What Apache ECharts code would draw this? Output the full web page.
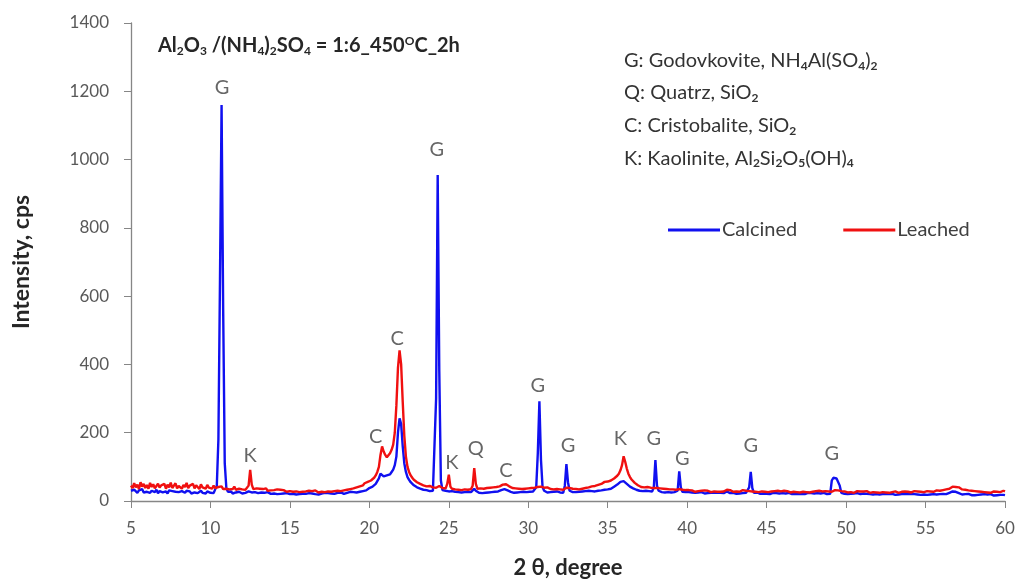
<!DOCTYPE html>
<html>
<head>
<meta charset="utf-8">
<script src="https://cdn.jsdelivr.net/npm/echarts@6/dist/echarts.min.js"></script>
<style>html,body{margin:0;padding:0;background:#fff}#c{width:1020px;height:584px}</style>
</head>
<body>
<div id="c"></div>
<script>
// XRD scan: start angle and step (degrees 2θ); intensities in cps, one row per degree
const scanStart = 5.0;
const scanStep = 0.1;

const calcined = [
/*5*/  30,26,33,28,24,31,27,35,25,29,
/*6*/  27,32,24,30,28,26,33,23,29,27,
/*7*/  25,30,28,22,31,26,29,24,27,30,
/*8*/  26,23,29,27,24,30,25,28,22,27,
/*9*/  25,28,23,27,30,24,26,22,28,25,
/*10*/ 24,27,23,26,45,180,650,1160,560,110,
/*11*/ 38,27,24,28,22,26,25,23,27,24,
/*12*/ 22,26,24,21,28,23,25,22,26,24,
/*13*/ 23,21,25,22,24,20,26,23,21,24,
/*14*/ 22,25,20,23,21,24,22,19,23,21,
/*15*/ 20,23,21,24,19,22,20,23,21,22,
/*16*/ 21,19,23,20,22,24,20,21,19,23,
/*17*/ 22,20,24,21,23,20,22,25,21,23,
/*18*/ 24,22,25,23,21,26,24,22,27,25,
/*19*/ 26,28,25,30,27,32,29,34,31,36,
/*20*/ 38,35,42,45,50,58,66,80,78,72,
/*21*/ 70,75,80,78,85,92,105,130,200,242,
/*22*/ 225,160,110,85,70,62,55,50,46,42,
/*23*/ 40,38,36,35,33,31,32,30,29,31,
/*24*/ 30,33,300,955,380,60,32,28,30,27,
/*25*/ 28,26,29,25,27,24,26,28,25,27,
/*26*/ 26,24,27,25,26,28,36,30,26,24,
/*27*/ 25,23,26,24,27,25,23,26,24,27,
/*28*/ 26,28,30,32,34,35,33,31,29,27,
/*29*/ 26,24,27,25,23,26,24,27,25,26,
/*30*/ 24,27,25,28,30,40,140,292,120,40,
/*31*/ 30,27,25,28,26,24,27,25,28,26,
/*32*/ 25,27,24,45,108,55,30,27,26,25,
/*33*/ 26,24,27,25,28,26,29,27,30,28,
/*34*/ 29,31,28,32,30,34,31,35,33,36,
/*35*/ 34,38,36,40,42,45,48,52,56,60,
/*36*/ 58,54,50,46,42,40,37,35,33,32,
/*37*/ 30,31,29,28,30,27,29,26,28,40,
/*38*/ 120,45,30,27,26,28,25,27,26,28,
/*39*/ 25,27,26,28,30,87,40,27,25,26,
/*40*/ 24,26,23,25,27,24,22,25,23,26,
/*41*/ 24,22,25,23,21,24,22,25,23,24,
/*42*/ 22,24,21,23,25,28,26,23,22,24,
/*43*/ 23,21,24,22,25,23,21,24,22,40,
/*44*/ 85,38,24,22,25,23,21,24,22,23,
/*45*/ 21,23,20,22,24,21,23,20,22,21,
/*46*/ 23,20,22,21,24,22,20,23,21,22,
/*47*/ 20,22,21,23,20,22,24,21,23,20,
/*48*/ 22,21,23,20,22,21,24,22,20,23,
/*49*/ 21,60,68,70,66,68,45,24,22,21,
/*50*/ 22,20,23,21,19,22,20,23,21,20,
/*51*/ 19,22,20,21,23,20,22,19,21,20,
/*52*/ 21,19,22,20,18,21,23,20,19,21,
/*53*/ 20,18,21,19,22,20,18,21,19,20,
/*54*/ 18,21,19,20,22,19,21,18,20,19,
/*55*/ 20,18,21,19,17,20,22,19,18,20,
/*56*/ 19,21,18,20,22,24,26,28,30,27,
/*57*/ 25,23,21,19,22,20,18,21,19,17,
/*58*/ 19,17,20,18,21,19,17,20,18,19,
/*59*/ 17,20,18,16,19,17,20,18,16,18,
/*60*/ 17
];

const leached = [
/*5*/  45,38,52,40,48,35,55,42,50,38,
/*6*/  47,36,53,41,49,37,44,51,39,46,
/*7*/  42,50,36,48,40,54,38,45,52,37,
/*8*/  44,49,36,47,41,53,38,45,40,50,
/*9*/  37,46,42,35,49,40,44,36,47,39,
/*10*/ 42,36,45,38,34,41,37,43,35,40,
/*11*/ 36,41,34,39,35,42,33,38,36,40,
/*12*/ 34,38,33,36,45,91,48,35,32,37,
/*13*/ 33,36,31,35,32,37,30,34,31,35,
/*14*/ 32,29,34,30,33,28,32,30,27,31,
/*15*/ 29,32,27,30,28,31,26,29,27,30,
/*16*/ 28,25,30,27,29,26,31,28,25,29,
/*17*/ 27,30,26,29,28,31,27,30,29,32,
/*18*/ 30,33,29,34,31,36,33,38,35,40,
/*19*/ 37,42,40,45,43,48,46,52,50,56,
/*20*/ 55,60,63,68,75,85,100,135,160,145,
/*21*/ 135,128,132,140,150,165,200,280,390,441,
/*22*/ 400,290,190,130,100,85,75,68,62,58,
/*23*/ 55,52,50,48,46,45,43,42,44,41,
/*24*/ 40,43,39,42,44,40,38,41,37,50,
/*25*/ 77,42,36,38,34,37,33,35,32,36,
/*26*/ 34,37,33,36,35,45,96,50,36,34,
/*27*/ 37,33,36,34,38,35,39,36,40,37,
/*28*/ 41,38,43,45,48,52,49,46,43,40,
/*29*/ 38,41,37,40,36,39,35,38,36,40,
/*30*/ 37,34,38,36,39,35,41,38,42,37,
/*31*/ 39,36,40,37,35,38,34,37,35,38,
/*32*/ 34,37,33,36,39,35,38,34,36,33,
/*33*/ 35,38,34,37,36,40,38,42,40,44,
/*34*/ 43,46,44,48,47,51,50,54,56,58,
/*35*/ 57,61,60,64,66,70,74,80,90,105,
/*36*/ 131,115,95,80,70,63,58,53,50,46,
/*37*/ 44,41,43,40,38,41,37,39,36,38,
/*38*/ 35,38,34,37,33,36,32,35,33,34,
/*39*/ 31,34,30,33,32,35,31,33,30,32,
/*40*/ 29,32,28,31,30,27,31,29,26,30,
/*41*/ 28,31,27,30,29,26,30,28,31,27,
/*42*/ 29,27,30,28,31,33,36,32,29,27,
/*43*/ 30,28,31,27,29,32,28,30,26,29,
/*44*/ 31,28,30,27,29,26,30,28,31,27,
/*45*/ 29,26,30,28,25,29,27,30,26,28,
/*46*/ 27,30,26,29,28,25,29,27,30,26,
/*47*/ 28,25,29,27,30,26,28,25,29,27,
/*48*/ 26,29,27,30,26,28,25,29,27,28,
/*49*/ 30,27,29,32,28,31,27,29,26,28,
/*50*/ 27,25,29,26,28,24,27,29,25,28,
/*51*/ 26,28,25,29,27,24,28,26,29,25,
/*52*/ 27,24,28,26,29,25,27,24,28,26,
/*53*/ 25,28,26,24,29,27,25,28,26,27,
/*54*/ 28,25,27,29,26,28,24,27,29,26,
/*55*/ 27,29,26,28,30,27,29,31,28,30,
/*56*/ 29,32,30,34,33,36,38,42,45,41,
/*57*/ 44,40,37,34,31,33,29,31,28,30,
/*58*/ 27,29,26,28,25,27,29,26,28,25,
/*59*/ 27,24,26,28,25,27,24,26,28,30,
/*60*/ 28
];

// Phase labels: [2θ, intensity at label centre, phase letter]
const peakLabels = [
  [10.73, 1210, 'G'], [12.5, 134, 'K'], [20.4, 190, 'C'], [21.75, 475, 'C'],
  [24.25, 1028, 'G'], [25.2, 114, 'K'], [26.7, 155, 'Q'], [28.6, 88, 'C'],
  [30.6, 338, 'G'], [32.5, 163, 'G'], [35.8, 184, 'K'], [37.9, 184, 'G'],
  [39.7, 125, 'G'], [44.0, 163, 'G'], [49.1, 140, 'G']
];

const xTicks = {min: 5, max: 60, interval: 5};
const yTicks = {min: 0, max: 1400, interval: 200};

function toXY(arr) {
  return arr.map((v, i) => [+(scanStart + i * scanStep).toFixed(1), v]);
}

const FONT = 'Lato, "Open Sans", sans-serif';
const chart = echarts.init(document.getElementById('c'), null, {renderer: 'canvas'});

const subR = {fontSize: 12, fontWeight: 'bold', padding: [10, 0, 0, 0], verticalAlign: 'middle', fontFamily: FONT, color: '#262626'};
const supR = {fontSize: 12, fontWeight: 'bold', padding: [0, 0, 10, 0], verticalAlign: 'middle', fontFamily: FONT, color: '#262626'};
const bR = {fontSize: 20, fontWeight: 'bold', verticalAlign: 'middle', fontFamily: FONT, color: '#262626', lineHeight: 26};
const nR = {fontSize: 20, fontWeight: 'normal', verticalAlign: 'middle', fontFamily: FONT, color: '#333333', lineHeight: 32.6};
const nsR = {fontSize: 12, padding: [11, 0, 0, 0], verticalAlign: 'middle', fontFamily: FONT, color: '#333333'};

chart.setOption({
  animation: false,
  backgroundColor: '#ffffff',
  title: [
    {
      left: 153, top: 28,
      text: '{b|Al}{s|2}{b|O}{s|3}{b| /(NH}{s|4}{b|)}{s|2}{b|SO}{s|4}{b| = 1:6_450}{p|O}{b|C_2h}',
      textStyle: {rich: {b: bR, s: subR, p: supR}}
    },
    {
      left: 619, top: 39,
      text: '{n|G: Godovkovite, NH}{s|4}{n|Al(SO}{s|4}{n|)}{s|2}\n{n|Q: Quatrz, SiO}{s|2}\n{n|C: Cristobalite, SiO}{s|2}\n{n|K: Kaolinite, Al}{s|2}{n|Si}{s|2}{n|O}{s|5}{n|(OH)}{s|4}',
      textStyle: {rich: {n: nR, s: nsR}}
    }
  ],
  legend: {
    data: ['Calcined', 'Leached'],
    left: 663, top: 215,
    icon: 'rect',
    itemWidth: 52, itemHeight: 3,
    itemGap: 46,
    textStyle: {fontSize: 20, color: '#404040', fontFamily: FONT, padding: [0, 0, 0, -3]}
  },
  grid: {left: 131, right: 15, top: 23, bottom: 81, containLabel: false},
  xAxis: {
    type: 'value', min: xTicks.min, max: xTicks.max, interval: xTicks.interval,
    name: '2 θ, degree', nameLocation: 'middle', nameGap: 56,
    nameTextStyle: {fontSize: 22, fontWeight: 'bold', color: '#262626', fontFamily: FONT},
    axisLine: {show: true, onZero: false, lineStyle: {color: '#868686', width: 1.3}},
    axisTick: {show: true, length: 7, lineStyle: {color: '#868686'}},
    axisLabel: {fontSize: 17, color: '#595959', margin: 19, fontFamily: FONT},
    splitLine: {show: false}
  },
  yAxis: {
    type: 'value', min: yTicks.min, max: yTicks.max, interval: yTicks.interval,
    name: 'Intensity, cps', nameLocation: 'middle', nameGap: 98, nameRotate: 90,
    nameTextStyle: {fontSize: 23, fontWeight: 'bold', color: '#262626', fontFamily: FONT},
    axisLine: {show: true, lineStyle: {color: '#868686', width: 1.3}},
    axisTick: {show: true, length: 7, lineStyle: {color: '#868686'}},
    axisLabel: {fontSize: 17, color: '#595959', margin: 22, fontFamily: FONT,
      formatter: v => String(v)},
    splitLine: {show: false}
  },
  series: [
    {
      name: 'Calcined', type: 'line', data: toXY(calcined),
      showSymbol: false, symbol: 'none', sampling: 'none',
      lineStyle: {color: '#1010f0', width: 2.4}, itemStyle: {color: '#1010f0'}, z: 2
    },
    {
      name: 'Leached', type: 'line', data: toXY(leached),
      showSymbol: false, symbol: 'none', sampling: 'none',
      lineStyle: {color: '#f01010', width: 2.4}, itemStyle: {color: '#f01010'}, z: 3
    },
    {
      name: 'labels', type: 'scatter', data: peakLabels,
      symbolSize: 0, silent: true, z: 5,
      label: {show: true, position: 'inside', formatter: p => p.data[2],
        fontSize: 20, color: '#404040', fontFamily: FONT}
    }
  ]
});
</script>
</body>
</html>
